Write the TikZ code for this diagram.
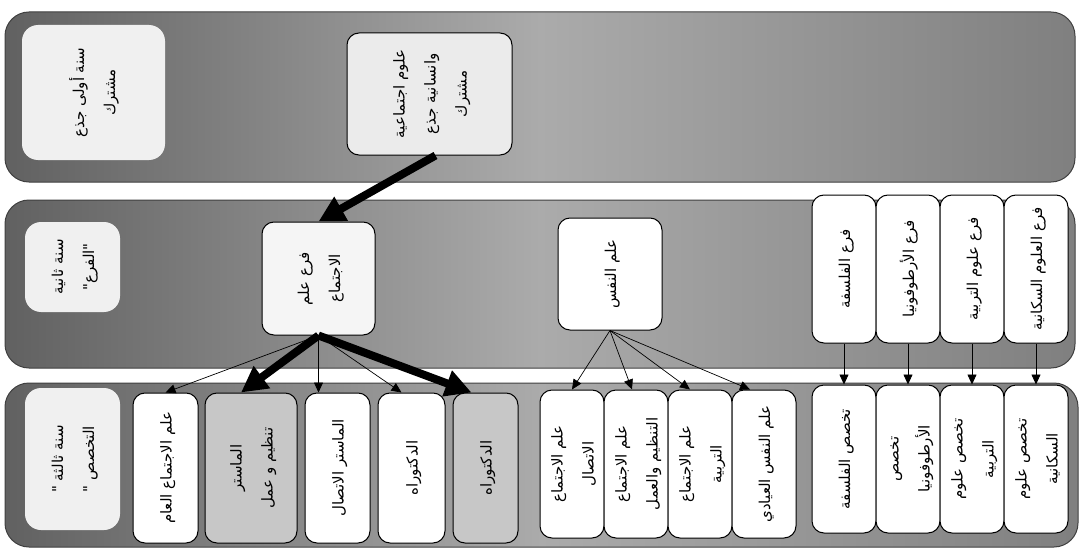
\documentclass[tikz,border=0pt]{standalone}
\usepackage{graphicx}
\usepackage{fontspec}
\usepackage{tikz}
\usetikzlibrary{arrows.meta}
\TeXXeTstate=1
\newfontfamily\arabicfont[Script=Arabic]{DejaVu Sans}
\newcommand{\rl}[1]{\beginR #1\endR}
\newcommand{\vt}[1]{\rotatebox{90}{\arabicfont\fontsize{15}{20}\selectfont\renewcommand{\arraystretch}{1.55}\begin{tabular}{@{}c@{}}#1\end{tabular}}}

\tikzset{
    band/.style = {draw = black!75, line width = 1pt, rounded corners = 24pt,
        left color = black!62, right color = black!50, middle color = black!33},
    yearbox/.style = {fill = black!6, rounded corners = 16pt, inner sep = 0pt},
    stage/.style = {draw, line width = 1pt, fill = white, rounded corners = 12pt, inner sep = 0pt},
    shadedstage/.style = {stage, fill = black!22},
    lightarrow/.style = {-{Triangle[length = 10pt, width = 9pt]}, line width = 0.7pt},
    heavyarrow/.style = {-{Triangle[length = 26pt, width = 26pt]}, line width = 8pt}
}

\begin{document}
\begin{tikzpicture}[x = 1pt, y = -1pt]
        \useasboundingbox (0, 0) rectangle (1080, 551);
        \fill[white] (0, 0) rectangle (1080, 551);

        \shade[band] (5, 12) rectangle (1075, 182);
        \shade[band] (5, 200) rectangle (1075, 368);
        \shade[band] (5, 383) rectangle (1078, 547);

        \node[yearbox, minimum width = 143pt, minimum height = 135pt] (year1) at (93.5, 92.5)
            {\vt{\rl{سنة أولى جذع} \\ \rl{مشترك}}};
        \node[stage, fill = black!8, minimum width = 165pt, minimum height = 122pt] (hum) at (429.5, 94)
            {\vt{\rl{علوم اجتماعية} \\ \rl{وانسانية جذع} \\ \rl{مشترك}}};

        \node[yearbox, minimum width = 95pt, minimum height = 90pt] (year2) at (72.5, 267)
            {\vt{\rl{سنة ثانية} \\ \rl{"الفرع"}}};
        \node[stage, fill = black!4, minimum width = 113pt, minimum height = 113pt] (soc) at (318.5, 278.5)
            {\vt{\rl{فرع علم} \\ \rl{الاجتماع}}};
        \node[stage, minimum width = 104pt, minimum height = 112pt] (psy) at (610, 274)
            {\vt{\rl{علم النفس}}};
        \node[stage, minimum width = 64pt, minimum height = 148pt] (phil) at (844, 269)
            {\vt{\rl{فرع الفلسفة}}};
        \node[stage, minimum width = 64pt, minimum height = 148pt] (orth) at (908, 269)
            {\vt{\rl{فرع الأرطوفونيا}}};
        \node[stage, minimum width = 64pt, minimum height = 148pt] (educ) at (972, 269)
            {\vt{\rl{فرع علوم التربية}}};
        \node[stage, minimum width = 64pt, minimum height = 148pt] (demo) at (1036, 269)
            {\vt{\rl{فرع العلوم السكانية}}};

        \node[yearbox, minimum width = 95pt, minimum height = 142pt] (year3) at (72.5, 459)
            {\vt{\rl{سنة ثالثة "} \\ \rl{التخصص "}}};
        \node[stage, minimum width = 65pt, minimum height = 150pt] (socgen) at (165.5, 468)
            {\vt{\rl{علم الاجتماع العام}}};
        \node[shadedstage, minimum width = 92pt, minimum height = 150pt] (mwork) at (251, 468)
            {\vt{\rl{الماستر} \\ \rl{تنظيم و عمل}}};
        \node[stage, minimum width = 65pt, minimum height = 150pt] (mcomm) at (337.5, 468)
            {\vt{\rl{الماستر الاتصال}}};
        \node[stage, minimum width = 67pt, minimum height = 150pt] (doc1) at (411.5, 468)
            {\vt{\rl{الدكتوراه}}};
        \node[shadedstage, minimum width = 65pt, minimum height = 150pt] (doc2) at (485.5, 468)
            {\vt{\rl{الدكتوراه}}};

        \node[stage, minimum width = 64pt, minimum height = 148pt] (pcomm) at (572, 464)
            {\vt{\rl{علم الاجتماع} \\ \rl{الاتصال}}};
        \node[stage, minimum width = 64pt, minimum height = 148pt] (pwork) at (636, 464)
            {\vt{\rl{علم الاجتماع} \\ \rl{التنظيم والعمل}}};
        \node[stage, minimum width = 64pt, minimum height = 148pt] (pedu) at (700, 464)
            {\vt{\rl{علم الاجتماع} \\ \rl{التربية}}};
        \node[stage, minimum width = 64pt, minimum height = 148pt] (pclin) at (764, 464)
            {\vt{\rl{علم النفس العيادي}}};

        \node[stage, minimum width = 64pt, minimum height = 148pt] (sphil) at (844, 459)
            {\vt{\rl{تخصص الفلسفة}}};
        \node[stage, minimum width = 64pt, minimum height = 148pt] (sorth) at (908, 459)
            {\vt{\rl{تخصص} \\ \rl{الأرطوفونيا}}};
        \node[stage, minimum width = 64pt, minimum height = 148pt] (seduc) at (972, 459)
            {\vt{\rl{تخصص علوم} \\ \rl{التربية}}};
        \node[stage, minimum width = 64pt, minimum height = 148pt] (sdemo) at (1036, 459)
            {\vt{\rl{تخصص علوم} \\ \rl{السكانية}}};

        \draw[heavyarrow] ([xshift = 6pt]hum.south) -- (soc.north);

        \draw[lightarrow] (soc.south) -- (socgen.north);
        \draw[heavyarrow] (soc.south) -- ([xshift = -10pt]mwork.north);
        \draw[lightarrow] (soc.south) -- (soc.south |- mcomm.north);
        \draw[lightarrow] (soc.south) -- ([xshift = -10pt]doc1.north);
        \draw[heavyarrow] (soc.south) -- ([xshift = -14pt]doc2.north);

        \draw[lightarrow] (psy.south) -- (pcomm.north);
        \draw[lightarrow] (psy.south) -- ([xshift = -4pt]pwork.north);
        \draw[lightarrow] (psy.south) -- ([xshift = -10pt]pedu.north);
        \draw[lightarrow] (psy.south) -- ([xshift = -14pt]pclin.north);

        \draw[lightarrow] (phil) -- (sphil);
        \draw[lightarrow] (orth) -- (sorth);
        \draw[lightarrow] (educ) -- (seduc);
        \draw[lightarrow] (demo) -- (sdemo);
\end{tikzpicture}
\end{document}
